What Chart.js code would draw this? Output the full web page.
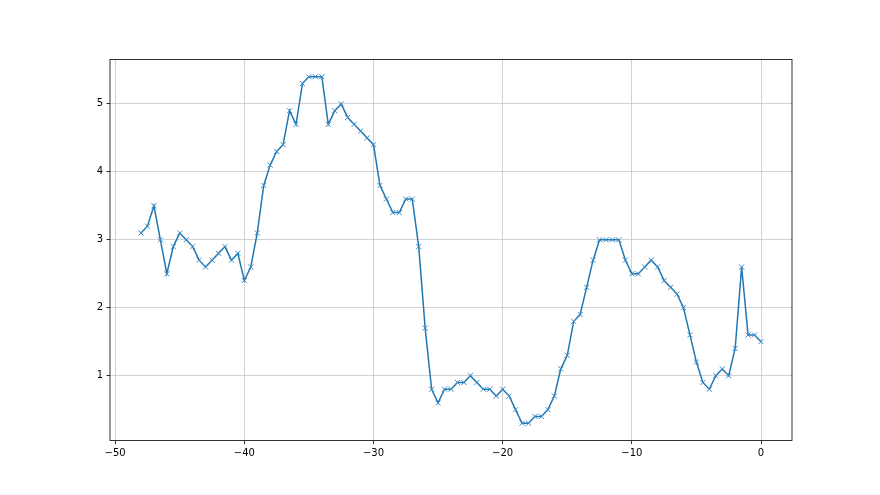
<!DOCTYPE html>
<html>
<head>
<meta charset="utf-8">
<script src="https://cdn.jsdelivr.net/npm/chart.js@4/dist/chart.umd.min.js"></script>
<style>
html,body{margin:0;padding:0;background:#fff;}
#wrap{width:880px;height:495px;position:relative;}
</style>
</head>
<body>
<div id="wrap"><canvas id="c" width="880" height="495"></canvas></div>
<script>
const xValues = [-48,-47.5,-47,-46.5,-46,-45.5,-45,-44.5,-44,-43.5,-43,-42.5,-42,-41.5,-41,-40.5,-40,-39.5,-39,-38.5,-38,-37.5,-37,-36.5,-36,-35.5,-35,-34.5,-34,-33.5,-33,-32.5,-32,-31.5,-31,-30.5,-30,-29.5,-29,-28.5,-28,-27.5,-27,-26.5,-26,-25.5,-25,-24.5,-24,-23.5,-23,-22.5,-22,-21.5,-21,-20.5,-20,-19.5,-19,-18.5,-18,-17.5,-17,-16.5,-16,-15.5,-15,-14.5,-14,-13.5,-13,-12.5,-12,-11.5,-11,-10.5,-10,-9.5,-9,-8.5,-8,-7.5,-7,-6.5,-6,-5.5,-5,-4.5,-4,-3.5,-3,-2.5,-2,-1.5,-1,-0.5,0];
const yValues = [3.1,3.2,3.5,3.0,2.5,2.9,3.1,3.0,2.9,2.7,2.6,2.7,2.8,2.9,2.7,2.8,2.4,2.6,3.1,3.8,4.1,4.3,4.4,4.9,4.7,5.3,5.4,5.4,5.4,4.7,4.9,5.0,4.8,4.7,4.6,4.5,4.4,3.8,3.6,3.4,3.4,3.6,3.6,2.9,1.7,0.8,0.6,0.8,0.8,0.9,0.9,1.0,0.9,0.8,0.8,0.7,0.8,0.7,0.5,0.3,0.3,0.4,0.4,0.5,0.7,1.1,1.3,1.8,1.9,2.3,2.7,3.0,3.0,3.0,3.0,2.7,2.5,2.5,2.6,2.7,2.6,2.4,2.3,2.2,2.0,1.6,1.2,0.9,0.8,1.0,1.1,1.0,1.4,2.6,1.6,1.6,1.5];
const xTicks = [-50,-40,-30,-20,-10,0];
const xTickLabels = ['\u221250','\u221240','\u221230','\u221220','\u221210','0'];
const yTicks = [1,2,3,4,5];
const yTickLabels = ['1','2','3','4','5'];

const points = xValues.map((x,i)=>({x:x,y:yValues[i]}));
const FONT = {family:'DejaVu Sans', size:10};

const spines = {
  id:'spines',
  afterDraw(chart){
    const a = chart.chartArea, ctx = chart.ctx;
    ctx.save();
    ctx.strokeStyle = '#000';
    ctx.lineWidth = 0.8;
    ctx.strokeRect(a.left, a.top, a.right-a.left, a.bottom-a.top);
    ctx.restore();
  }
};

new Chart(document.getElementById('c'), {
  type:'line',
  data:{datasets:[{
    data:points,
    borderColor:'#1f77b4',
    backgroundColor:'#1f77b4',
    borderWidth:1.5,
    tension:0,
    fill:false,
    pointStyle:'crossRot',
    pointRadius:3.6,
    pointHoverRadius:3.6,
    pointBorderWidth:1,
    pointBorderColor:'#3b8bc6'
  }]},
  options:{
    responsive:false,
    animation:false,
    devicePixelRatio:1,
    events:[],
    layout:{padding:{left:0,top:59.4,right:88,bottom:0}},
    plugins:{legend:{display:false},tooltip:{enabled:false}},
    scales:{
      x:{
        type:'linear',
        min:-50.4, max:2.4,
        afterBuildTicks(s){ s.ticks = xTicks.map(v=>({value:v})); },
        afterFit(s){ s.height = 54.45; },
        ticks:{
          font:FONT, color:'#000', padding:3.5, maxRotation:0, autoSkip:false,
          callback(v){ const i = xTicks.indexOf(v); return i>=0 ? xTickLabels[i] : ''; }
        },
        grid:{color:'#c6c6c6', lineWidth:0.8, tickColor:'#000', tickLength:3.5, tickWidth:0.8},
        border:{display:false}
      },
      y:{
        type:'linear',
        min:0.045, max:5.655,
        afterBuildTicks(s){ s.ticks = yTicks.map(v=>({value:v})); },
        afterFit(s){ s.width = 110; },
        ticks:{
          font:FONT, color:'#000', padding:3.5, autoSkip:false,
          callback(v){ const i = yTicks.indexOf(v); return i>=0 ? yTickLabels[i] : ''; }
        },
        grid:{color:'#c6c6c6', lineWidth:0.8, tickColor:'#000', tickLength:3.5, tickWidth:0.8},
        border:{display:false}
      }
    }
  },
  plugins:[spines]
});
</script>
</body>
</html>
